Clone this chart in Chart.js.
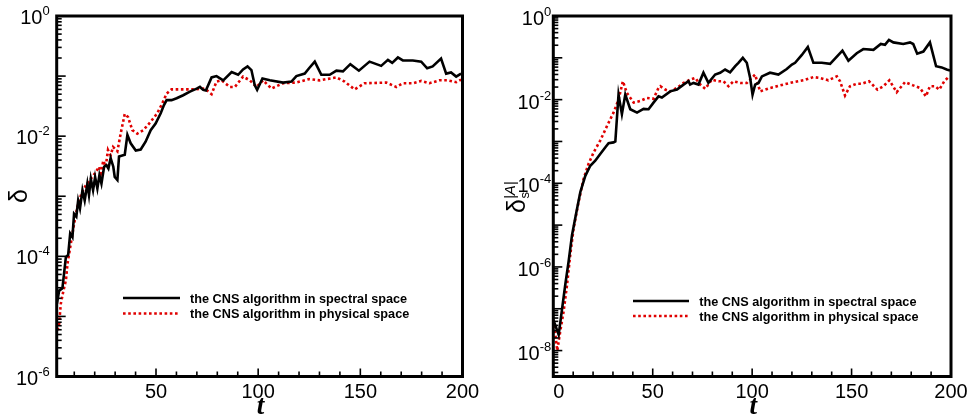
<!DOCTYPE html>
<html>
<head>
<meta charset="utf-8">
<script src="https://cdn.jsdelivr.net/npm/chart.js@4.4.1/dist/chart.umd.min.js"></script>
<style>
html, body { margin: 0; padding: 0; background: #fff; }
#wrap { position: relative; width: 970px; height: 418px; overflow: hidden; }
canvas { position: absolute; top: 0; }
</style>
</head>
<body>
<div id="wrap">
  <canvas id="leftChart" width="485" height="418" style="left:0"></canvas>
  <canvas id="rightChart" width="485" height="418" style="left:485px"></canvas>
</div>
<script>
// Nombres de las series
const seriesNames = ['the CNS algorithm in spectral space', 'the CNS algorithm in physical space'];

// Panel izquierdo: delta frente a t
const tLeftSpec = [1.5,2.6,4.2,5.9,7,8,9.1,9.9,11,11.9,12.8,14,15.1,16.4,17.2,18.1,19.2,20.2,21.3,22.3,23.3,24.6,25.7,26.7,27.8,29.1,29.8,31.1,31.9,34.7,36,37.6,40.1,42.5,44.9,47.4,49.8,52.3,53.9,55.2,57.6,60.1,63.3,66.6,69.9,71.5,73.1,74.4,77.2,79.6,82.9,87,90.2,92.6,94.8,96.7,98.3,99.5,102.1,105.7,112.2,116.3,118.7,122.8,124.9,127.7,130.9,135,138.3,141.5,145.1,149.3,154.5,160.2,163.5,165.6,168.4,170.8,175.7,179.8,182.7,185.4,189.5,192,194.4,196.9,199.3];
const deltaSpec = [1.62e-5,2.69e-5,2.95e-5,9.8e-5,1.05e-4,2.4e-4,2.09e-4,5.1e-4,4.6e-4,8.5e-4,6.3e-4,1.26e-3,8.5e-4,1.62e-3,1.05e-3,1.95e-3,1.26e-3,2.09e-3,1.35e-3,2.24e-3,1.62e-3,3.1e-3,3.3e-3,2.9e-3,4.3e-3,3.1e-3,2.09e-3,1.86e-3,4.6e-3,4.9e-3,1.05e-2,7.6e-3,5.75e-3,6.0e-3,8.1e-3,1.26e-2,1.62e-2,2.4e-2,3.3e-2,3.98e-2,3.98e-2,4.27e-2,4.8e-2,5.5e-2,6.2e-2,6.6e-2,5.9e-2,5.75e-2,9.5e-2,0.1,8.5e-2,0.117,0.105,0.129,0.145,0.126,7.1e-2,5.9e-2,9.1e-2,8.5e-2,7.8e-2,8.1e-2,0.1,0.11,0.135,0.174,0.105,0.105,0.123,0.12,0.158,0.123,0.174,0.148,0.186,0.166,0.204,0.182,0.182,0.174,0.135,0.145,0.195,0.11,0.115,0.098,0.11];
const tLeftPhys = [1.8,2.6,3.4,4.7,5.9,6.7,8.3,9.9,11.5,13.5,15.6,18.1,20.5,22.1,23,24.2,25.4,26.5,27.8,29,31.1,32.7,34.7,36.3,38.4,40.8,43.8,47.4,50.6,53,55.2,57.6,63.3,68.2,73.9,77.2,79.6,82.1,86.1,88.6,92.6,95.9,99.2,102.4,106.5,112.2,118.7,124.9,130.1,138.3,142.3,147.2,152.1,162.7,167.6,170.8,175.7,179.8,183.8,188.7,192.8,196.9,199.3];
const deltaPhys = [5.9e-6,7.6e-6,1.62e-5,2.69e-5,3.98e-5,7.6e-5,1.62e-4,3.47e-4,6.6e-4,1.1e-3,1.51e-3,1.95e-3,2.51e-3,3.1e-3,2.4e-3,3.9e-3,3.1e-3,5.9e-3,4.8e-3,6.6e-3,5.6e-3,1.1e-2,2.34e-2,2.09e-2,1.26e-2,1.1e-2,1.26e-2,1.74e-2,2.4e-2,3.47e-2,5.1e-2,6.0e-2,6.0e-2,6.0e-2,6.2e-2,5.0e-2,8.1e-2,8.5e-2,6.6e-2,6.6e-2,9.8e-2,8.5e-2,6.6e-2,8.5e-2,6.2e-2,7.6e-2,7.8e-2,8.9e-2,8.5e-2,9.5e-2,8.1e-2,6.0e-2,7.6e-2,7.8e-2,6.6e-2,7.6e-2,7.6e-2,8.3e-2,7.6e-2,8.5e-2,8.5e-2,7.9e-2,8.7e-2];

// Panel derecho: delta_s^|A| frente a t
const tRightSpec = [0,2.7,6,7.7,9.4,11.6,13.6,16.1,18.6,21.1,23.6,26.1,27.8,30.3,31.2,32.8,34.5,36.2,38.7,42.1,45.4,47.9,50.4,52.9,54.6,58.8,62.2,65.5,68,68.8,70.5,73,75.5,78,81.4,83.9,86.4,88.9,91.5,93.1,95.3,97.3,99,100.2,101.5,103.2,104.9,109,113.2,117.4,120,121.6,125,128,130.8,135,139.2,142.6,145.4,148.4,152.6,155.9,161,164.7,166.8,168.8,171,176,179.4,181,183,186.1,189.4,192.5,195.3,197.8,199.5];
const deltaSSpec = [5.5e-8,2.4e-8,3.7e-7,1.35e-6,5.75e-6,2.04e-5,6.2e-5,1.51e-4,2.63e-4,3.47e-4,5.0e-4,7.2e-4,9.1e-4,9.5e-4,1.0e-3,1.32e-2,4.5e-3,1.32e-2,5.9e-3,4.9e-3,6.0e-3,5.9e-3,8.5e-3,1.2e-2,1.12e-2,1.58e-2,1.74e-2,2.29e-2,2.75e-2,2.29e-2,2.51e-2,2.29e-2,4.4e-2,2.51e-2,3.98e-2,4.4e-2,5.25e-2,4.5e-2,6.3e-2,7.6e-2,0.1,7.6e-2,3.3e-2,1.32e-2,2.29e-2,2.51e-2,3.6e-2,4.4e-2,3.98e-2,5.4e-2,6.9e-2,7.6e-2,0.117,0.182,7.6e-2,7.6e-2,7.2e-2,0.107,0.148,8.5e-2,0.129,0.162,0.155,0.214,0.204,0.269,0.234,0.214,0.234,0.214,0.126,0.141,0.234,6.3e-2,5.9e-2,5.25e-2,5.0e-2];
const tRightPhys = [0.5,2,3.5,5.2,6.9,8.5,10.2,12.7,15.2,17.7,20.3,23.6,27,30.3,32.8,35,37,40.4,43.7,47.1,50.4,52.9,53.8,56.3,58.8,62.2,65.5,68.8,71.4,73.9,76.4,79.7,83.1,85.6,88.1,90.6,94,97.3,101.5,104,109,115.7,120.8,125.8,130.8,134.2,138.3,142.6,144.2,146.7,149.2,152.6,155.1,158.8,163,166,169,172.7,176.9,181,184.4,187.4,189.4,192,194.1,196.6,199.1];
const deltaSPhys = [4.0e-8,1.0e-8,2.9e-8,8.7e-8,3.7e-7,1.9e-6,8.3e-6,3.55e-5,1.26e-4,2.9e-4,5.5e-4,1.05e-3,2.34e-3,4.9e-3,1.0e-2,2.75e-2,1.45e-2,8.5e-3,9.3e-3,1.1e-2,1.05e-2,1.9e-2,2.09e-2,1.74e-2,1.58e-2,1.9e-2,2.51e-2,3.0e-2,3.3e-2,2.29e-2,1.82e-2,3.0e-2,2.75e-2,2.75e-2,2.09e-2,2.75e-2,2.51e-2,2.51e-2,3.98e-2,1.58e-2,1.9e-2,2.29e-2,2.63e-2,2.9e-2,3.47e-2,3.3e-2,2.9e-2,3.6e-2,2.75e-2,1.26e-2,2.09e-2,2.4e-2,2.4e-2,2.75e-2,1.74e-2,2.09e-2,2.9e-2,1.51e-2,2.63e-2,2.19e-2,1.9e-2,1.2e-2,2.09e-2,2.09e-2,1.74e-2,2.75e-2,3.6e-2];

// Etiquetas de los ejes
const xLabelsLeft = [50, 100, 150, 200];
const xLabelsRight = [0, 50, 100, 150, 200];
const yLabelsLeft = [1, 1e-2, 1e-4, 1e-6];
const yLabelsRight = [1, 1e-2, 1e-4, 1e-6, 1e-8];

const FONT = '"Liberation Sans", Arial, Helvetica, sans-serif';
const RED = '#e00000';

function pts(ts, vs) {
    return ts.map((t, i) => ({ x: t, y: vs[i] }));
}

// Marco, marcas y textos al estilo Tecplot
const tecplotFrame = {
    id: 'tecplotFrame',
    afterDatasetsDraw(chart, args, o) {
        const ctx = chart.ctx;
        const a = chart.chartArea;
        const xs = chart.scales.x, ys = chart.scales.y;
        ctx.save();
        ctx.strokeStyle = '#000';
        ctx.fillStyle = '#000';

        // marcas del eje x (hacia dentro)
        ctx.lineWidth = 1.6;
        for (let v = Math.ceil(xs.min / 10) * 10; v <= xs.max; v += 10) {
            const px = xs.getPixelForValue(v);
            const len = v % 50 === 0 ? 8 : 5;
            ctx.beginPath(); ctx.moveTo(px, a.bottom); ctx.lineTo(px, a.bottom - len); ctx.stroke();
        }
        // marcas del eje y logarítmico
        const d0 = Math.floor(Math.log10(ys.min) - 1e-9);
        for (let d = d0; d <= 0; d++) {
            for (let k = 1; k <= 9; k++) {
                const v = k * Math.pow(10, d);
                if (v < ys.min * 0.999 || v > ys.max * 1.001) continue;
                const py = ys.getPixelForValue(v);
                ctx.beginPath(); ctx.moveTo(a.left, py); ctx.lineTo(a.left + (k === 1 ? 9 : 5), py); ctx.stroke();
            }
        }
        // marco
        ctx.lineWidth = 3;
        ctx.strokeRect(a.left, a.top, a.right - a.left, a.bottom - a.top);

        // etiquetas x
        ctx.font = '20px ' + FONT;
        ctx.textBaseline = 'alphabetic';
        ctx.textAlign = 'left';
        o.xLabels.forEach(v => {
            const s = String(v);
            const w = ctx.measureText(s).width;
            let px = xs.getPixelForValue(v) - w / 2;
            if (px < a.left) px = a.left;
            ctx.fillText(s, px, a.bottom + 21);
        });
        // etiquetas y: 10 con exponente
        o.yLabels.forEach(v => {
            const e = String(Math.round(Math.log10(v)));
            const py = ys.getPixelForValue(v);
            ctx.font = '13px ' + FONT;
            const we = ctx.measureText(e).width;
            ctx.font = '20px ' + FONT;
            const wb = ctx.measureText('10').width;
            const right = a.left - o.labelGap;
            ctx.fillText('10', right - we - wb, py + o.baseOff);
            ctx.font = '13px ' + FONT;
            ctx.fillText(e, right - we, py + o.baseOff - 9);
        });

        // título del eje x
        ctx.font = 'italic bold 27px "Liberation Serif", "Times New Roman", serif';
        ctx.textAlign = 'center';
        ctx.fillText('t', (a.left + a.right) / 2 + 1, 414);

        // título del eje y (girado)
        ctx.save();
        ctx.translate(o.yTitleX, o.yTitleY);
        ctx.rotate(-Math.PI / 2);
        ctx.textAlign = 'left';
        ctx.font = '25px ' + FONT;
        ctx.fillText('δ', 0, 0);
        const wd = ctx.measureText('δ').width;
        if (o.subSup) {
            ctx.font = '13px ' + FONT;
            ctx.fillText('s', wd + 0.5, 4);
            ctx.font = 'italic 15px ' + FONT;
            ctx.fillText('|A|', wd, -10);
        }
        ctx.restore();

        // leyenda
        const L = o.legend;
        chart.data.datasets.forEach((ds, i) => {
            const y = L.y0 + i * L.dy;
            ctx.save();
            ctx.strokeStyle = ds.borderColor;
            ctx.lineWidth = ds.borderWidth;
            ctx.setLineDash(ds.borderDash || []);
            ctx.beginPath(); ctx.moveTo(L.x0, y); ctx.lineTo(L.x1, y); ctx.stroke();
            ctx.restore();
            ctx.font = 'bold 12.7px ' + FONT;
            ctx.textAlign = 'left';
            ctx.fillText(ds.label, L.textX, y + 4.5);
        });
        ctx.restore();
    }
};

function makeChart(id, specT, specV, physT, physV, xMin, yMin, pad, frameOpts) {
    return new Chart(document.getElementById(id).getContext('2d'), {
        type: 'line',
        data: {
            datasets: [
                {
                    label: seriesNames[0],
                    data: pts(specT, specV),
                    borderColor: '#000',
                    borderWidth: 2.6,
                    pointRadius: 0,
                    tension: 0,
                    fill: false
                },
                {
                    label: seriesNames[1],
                    data: pts(physT, physV),
                    borderColor: RED,
                    borderWidth: 2.6,
                    borderDash: [2.6, 2.6],
                    pointRadius: 0,
                    tension: 0,
                    fill: false
                }
            ]
        },
        options: {
            responsive: false,
            animation: false,
            devicePixelRatio: 1,
            layout: { padding: pad },
            plugins: {
                legend: { display: false },
                tooltip: { enabled: false },
                tecplotFrame: frameOpts
            },
            scales: {
                x: { type: 'linear', min: xMin, max: 200, display: false },
                y: { type: 'logarithmic', min: yMin, max: 1, display: false }
            }
        },
        plugins: [tecplotFrame]
    });
}

makeChart('leftChart', tLeftSpec, deltaSpec, tLeftPhys, deltaPhys, 1.4, 1e-6,
    { left: 56.7, right: 22.5, top: 16, bottom: 41.5 },
    {
        xLabels: xLabelsLeft, yLabels: yLabelsLeft, labelGap: 7, baseOff: 8,
        yTitleX: 27, yTitleY: 203, subSup: false,
        legend: { x0: 123, x1: 180, y0: 298, dy: 15.5, textX: 190 }
    });

makeChart('rightChart', tRightSpec, deltaSSpec, tRightPhys, deltaSPhys, 0, 2.4e-9,
    { left: 68.3, right: 19, top: 16, bottom: 41.5 },
    {
        xLabels: xLabelsRight, yLabels: yLabelsRight, labelGap: 2, baseOff: 9,
        yTitleX: 40, yTitleY: 213, subSup: true,
        legend: { x0: 148, x1: 204, y0: 301, dy: 15, textX: 214.3 }
    });
</script>
</body>
</html>
